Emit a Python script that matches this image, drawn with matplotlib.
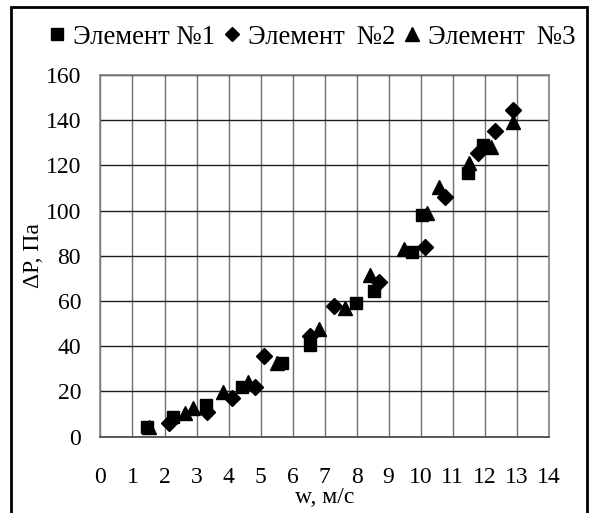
import matplotlib.pyplot as plt
from matplotlib.patches import Rectangle

plt.rcParams['font.family'] = 'serif'
plt.rcParams['font.serif'] = ['Liberation Serif', 'DejaVu Serif']

# w, m/s and dP, Pa for the three elements
w1 = [1.44, 2.28, 3.29, 4.41, 5.66, 6.55, 7.98, 8.55, 9.72, 10.04, 11.47, 11.94]
dp1 = [4.3, 8.8, 13.9, 22.0, 32.4, 40.5, 59.0, 64.5, 81.8, 98.0, 116.5, 129.0]

w2 = [2.14, 3.32, 4.10, 4.83, 5.11, 6.55, 7.30, 8.71, 10.14, 10.77, 11.80, 12.33, 12.88]
dp2 = [5.8, 11.0, 16.9, 22.0, 35.6, 44.5, 57.8, 68.5, 84.0, 106.2, 125.4, 135.4, 144.5]

w3 = [1.53, 2.64, 2.90, 3.84, 4.62, 5.50, 6.82, 7.64, 8.42, 9.48, 10.21, 10.56, 11.52, 12.19, 12.88]
dp3 = [4.3, 10.5, 12.5, 19.8, 24.3, 32.4, 47.6, 56.8, 71.5, 83.0, 99.1, 110.6, 121.2, 128.3, 139.4]

labels = ['Элемент №1', 'Элемент \u2009№2', 'Элемент \u2009№3']
xticks = list(range(0, 15))
yticks = list(range(0, 161, 20))

fig = plt.figure(figsize=(5.9, 5.13), dpi=100)
ax = fig.add_axes([0.1703, 0.1491, 0.7597, 0.7047])

ax.plot(w1, dp1, 's', color='black', markersize=9, label=labels[0])
ax.plot(w2, dp2, 'D', color='black', markersize=8, label=labels[1])
ax.plot(w3, dp3, '^', color='black', markersize=10, label=labels[2])

ax.set_xlim(0, 14)
ax.set_ylim(0, 160)
ax.set_xticks(xticks)
ax.set_yticks(yticks)
ax.tick_params(axis='both', length=0, labelsize=17)
ax.tick_params(axis='x', pad=22)
ax.tick_params(axis='y', pad=14)
ax.xaxis.grid(True, color='#707070', linewidth=1.0)
ax.yaxis.grid(True, color='#202020', linewidth=1.0)
ax.set_axisbelow(True)
for side in ['top', 'right', 'left']:
    ax.spines[side].set_color('#808080')
ax.spines['bottom'].set_color('#404040')
for s in ax.spines.values():
    s.set_linewidth(1.2)

ax.set_xlabel('w, м/с', fontsize=17, va='center')
ax.xaxis.set_label_coords(0.5, -0.168)
ax.set_ylabel('ΔP, Па', fontsize=17, va='center')
ax.yaxis.set_label_coords(-0.15, 0.5)

ax.legend(loc='center left', bbox_to_anchor=(-0.136, 1.105), ncol=3, frameon=False,
          fontsize=19.2, handlelength=0.5, handletextpad=0.35, columnspacing=0.38,
          borderaxespad=0, markerscale=0.95)

# black frame around the whole chart
fig.patches.append(Rectangle((0.0178, -0.05), 0.977, 1.037, transform=fig.transFigure,
                             fill=False, edgecolor='black', linewidth=2))

fig.savefig('out.png', dpi=100)
